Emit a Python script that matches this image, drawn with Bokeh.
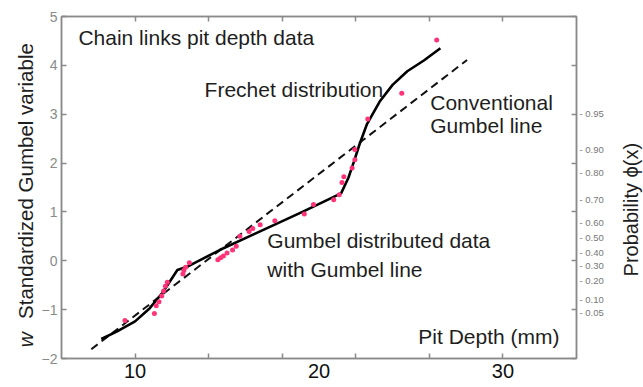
import math
from bokeh.plotting import figure
from bokeh.layouts import row
from bokeh.models import LinearAxis, FixedTicker, Label, Range1d, CustomJSTickFormatter
from bokeh.embed import file_html
from bokeh.resources import INLINE

# ---- data ----
pit_x = [9.45, 11.05, 11.15, 11.3, 11.45, 11.55, 11.65, 11.75, 12.6, 12.65, 12.75, 12.95,
         14.5, 14.65, 14.8, 15.0, 15.3, 15.5, 15.7, 16.2, 16.4, 16.8, 17.6, 19.2, 19.7,
         20.8, 21.1, 21.25, 21.35, 21.8, 21.95, 21.95, 22.65, 24.5, 26.4]
pit_w = [-1.22, -1.08, -0.92, -0.84, -0.72, -0.62, -0.52, -0.44, -0.27, -0.2, -0.13, -0.04,
         0.02, 0.06, 0.1, 0.16, 0.22, 0.3, 0.5, 0.6, 0.66, 0.74, 0.82, 0.96, 1.15,
         1.25, 1.35, 1.6, 1.72, 1.9, 2.07, 2.28, 2.9, 3.43, 4.52]

frechet_x = [8.16, 9.0, 10.0, 10.8, 11.5, 12.3, 12.9, 14.6, 16.5, 19.1, 21.2, 21.6, 21.9,
             22.2, 22.6, 23.3, 24.0, 24.8, 25.7, 26.6]
frechet_w = [-1.60, -1.45, -1.24, -0.97, -0.65, -0.19, -0.11, 0.22, 0.55, 1.0, 1.38, 1.7, 2.03,
             2.38, 2.79, 3.26, 3.6, 3.88, 4.1, 4.35]

gumbel_x = [7.62, 28.05]
gumbel_w = [-1.81, 4.11]

x_ticks = [10, 14, 18, 22, 26, 30]
x_labels = [10, 20, 30]
y_ticks = [-2, -1, 0, 1, 2, 3, 4, 5]

prob_labels = ["0.95", "0.90", "0.80", "0.70", "0.60", "0.50", "0.40", "0.30", "0.20", "0.10", "0.05"]
prob_w = [3.02, 2.28, 1.81, 1.25, 0.78, 0.47, 0.16, -0.10, -0.41, -0.80, -1.05]

FONT = "Liberation Sans"
GRAY = "#8a8a8a"
TXT = "#1e1e1e"

LEFT_W, RIGHT_W, TOTAL_W, H = 38, 35, 643, 387
TOP_B, BOT_B = 16, 29

p = figure(width=TOTAL_W - LEFT_W - RIGHT_W, height=H, x_range=Range1d(6, 34), y_range=Range1d(-2, 5),
           output_backend="svg", toolbar_location=None,
           min_border_left=20, min_border_top=TOP_B, min_border_right=32, min_border_bottom=BOT_B)
p.xgrid.visible = False
p.ygrid.visible = False
p.outline_line_color = GRAY
p.outline_line_width = 1.5
p.background_fill_color = "white"
p.border_fill_color = "white"

# bottom axis
xa = p.xaxis[0]
xa.ticker = FixedTicker(ticks=x_labels, minor_ticks=x_ticks)
xa.major_tick_in = 0
xa.major_tick_out = 0
xa.minor_tick_in = 5
xa.minor_tick_out = 0
xa.minor_tick_line_color = GRAY
xa.minor_tick_line_width = 1.5
xa.axis_line_color = GRAY
xa.axis_line_width = 1.5
xa.major_label_text_font = FONT
xa.major_label_text_font_size = "20px"
xa.major_label_text_color = "#111111"
xa.major_label_standoff = 5

# left axis
ya = p.yaxis[0]
ya.ticker = FixedTicker(ticks=y_ticks)
ya.major_tick_in = 5
ya.major_tick_out = 0
ya.major_tick_line_color = GRAY
ya.major_tick_line_width = 1.5
ya.minor_tick_line_color = None
ya.axis_line_color = GRAY
ya.axis_line_width = 1.5
ya.major_label_text_font = FONT
ya.major_label_text_font_size = "14px"
ya.major_label_text_color = GRAY
ya.major_label_standoff = 4

# top axis (ticks only)
ta = LinearAxis(ticker=FixedTicker(ticks=[], minor_ticks=x_ticks),
                minor_tick_in=5, minor_tick_out=0, minor_tick_line_color=GRAY,
                minor_tick_line_width=1.5, major_tick_in=0, major_tick_out=0,
                axis_line_color=GRAY, axis_line_width=1.5, major_label_standoff=0)
p.add_layout(ta, "above")

# right axis (integer ticks only)
ra = LinearAxis(ticker=FixedTicker(ticks=[], minor_ticks=y_ticks),
                minor_tick_in=5, minor_tick_out=0, minor_tick_line_color=GRAY,
                minor_tick_line_width=1.5, major_tick_in=0, major_tick_out=0,
                axis_line_color=GRAY, axis_line_width=1.5, major_label_standoff=0)
p.add_layout(ra, "right")

# right probability labels
fmt = CustomJSTickFormatter(args=dict(pos=prob_w, labels=prob_labels),
                            code="const i = pos.indexOf(tick); return i < 0 ? '' : '- ' + labels[i];")
pa = LinearAxis(ticker=FixedTicker(ticks=prob_w), formatter=fmt,
                major_tick_in=0, major_tick_out=0, minor_tick_line_color=None,
                axis_line_color=None, major_label_standoff=3,
                major_label_text_font=FONT, major_label_text_font_size="9.5px",
                major_label_text_color="#777777")
p.add_layout(pa, "right")

# data
p.line(gumbel_x, gumbel_w, line_width=2, line_color="#111111", line_dash="8 5")
p.line(frechet_x, frechet_w, line_width=2.6, line_color="#000000")
p.scatter(pit_x, pit_w, size=5, fill_color="#ff3377", line_color=None)

# annotations
def txt(fig, x, y, s, **kw):
    opts = dict(x=x, y=y, text=s, text_font=FONT, text_font_size="21px",
                text_color=TXT, text_baseline="alphabetic", text_align="left")
    opts.update(kw)
    fig.add_layout(Label(**opts))

txt(p, 6.92, 4.57, "Chain links pit depth data")
txt(p, 13.78, 3.51, "Frechet distribution")
txt(p, 26.05, 3.24, "Conventional")
txt(p, 26.05, 2.77, "Gumbel line")
txt(p, 17.19, 0.41, "Gumbel distributed data")
txt(p, 17.19, -0.17, "with Gumbel line")
txt(p, 25.4, -1.55, "Pit Depth (mm)")

# side strips carrying the rotated axis titles (same vertical scale as the main frame)
def strip(w):
    f = figure(width=w, height=H, x_range=Range1d(0, w), y_range=Range1d(-2, 5),
               output_backend="svg", toolbar_location=None,
               x_axis_location=None, y_axis_location=None,
               min_border_left=0, min_border_right=0, min_border_top=TOP_B, min_border_bottom=BOT_B)
    f.xgrid.visible = False
    f.ygrid.visible = False
    f.outline_line_color = None
    f.background_fill_color = "white"
    f.border_fill_color = "white"
    return f

lf = strip(LEFT_W)
txt(lf, 25, -1.77, "w", angle=math.pi / 2, text_baseline="middle",
    text_font_style="italic", text_font_size="21px")
txt(lf, 25, -1.19, "Standardized Gumbel variable", angle=math.pi / 2,
    text_baseline="middle", text_font_size="20.5px")

rf = strip(RIGHT_W)
txt(rf, 22, -0.32, "Probability \u03d5(x)", angle=math.pi / 2,
    text_baseline="middle", text_font_size="20px")

layout = row(lf, p, rf, spacing=0)
open("out.html", "w").write(file_html(layout, INLINE))
